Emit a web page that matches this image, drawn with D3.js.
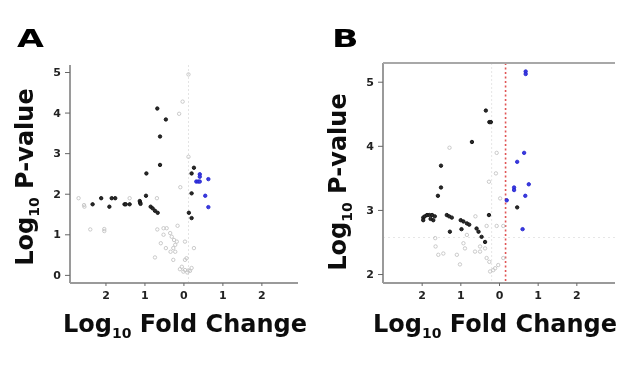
<!DOCTYPE html>
<html>
<head>
<meta charset="utf-8">
<script src="https://cdn.jsdelivr.net/npm/d3@7"></script>
<style>
  body { margin: 0; background: #fff; }
  svg { display: block; }
  text { font-family: "DejaVu Sans", Arial, sans-serif; }
</style>
</head>
<body>
<svg width="640" height="378"></svg>
<script>
// panel A: [log10 fold change, log10 p-value]
const aSig = [
  [-0.67, 4.1], [-0.45, 3.83], [-0.6, 3.41], [-0.6, 2.71], [-0.95, 2.5],
  [0.27, 2.64], [0.21, 2.5], [0.21, 2.01], [0.14, 1.53], [0.21, 1.4],
  [-0.96, 1.95], [-1.12, 1.82], [-1.11, 1.78], [-1.1, 1.75],
  [-0.84, 1.68], [-0.79, 1.64], [-0.73, 1.58], [-0.66, 1.53],
  [-2.11, 1.89], [-1.84, 1.89], [-1.75, 1.89], [-1.9, 1.68], [-2.33, 1.74],
  [-1.51, 1.74], [-1.48, 1.74], [-1.38, 1.74]
]
const aUp = [
  [0.42, 2.48], [0.42, 2.42], [0.33, 2.3], [0.38, 2.3], [0.42, 2.3],
  [0.64, 2.36], [0.56, 1.95], [0.64, 1.67]
]
const aNs = [
  [0.13, 4.94], [-0.02, 4.27], [-0.11, 3.97], [0.13, 2.91], [-0.08, 2.16],
  [-0.68, 1.89], [-1.38, 1.89], [-2.69, 1.89], [-2.55, 1.72], [-2.54, 1.68],
  [-2.39, 1.12], [-2.03, 1.13], [-2.03, 1.08],
  [-0.67, 1.12], [-0.51, 1.15], [-0.43, 1.15], [-0.15, 1.21], [-0.34, 1.03],
  [-0.3, 0.94], [-0.24, 0.86], [-0.17, 0.82], [-0.21, 0.74], [-0.51, 0.99],
  [-0.58, 0.78], [-0.45, 0.66], [-0.26, 0.66], [-0.21, 0.57], [0.04, 0.82],
  [0.27, 0.66], [-0.73, 0.43], [-0.26, 0.37], [0.04, 0.37], [-0.04, 0.2],
  [0.04, 0.12], [0.13, 0.11], [0.21, 0.17], [-0.09, 0.14], [0.08, 0.41],
  [-0.33, 0.57], [0.0, 0.08], [0.1, 0.06], [0.17, 0.1]
]

// panel B
const bSig = [
  [-0.34, 4.55], [-0.25, 4.37], [-0.21, 4.37], [-0.7, 4.06], [-1.5, 3.69],
  [-1.5, 3.35], [-1.58, 3.22], [0.47, 3.04], [-0.26, 2.92],
  [-1.96, 2.88], [-1.92, 2.9], [-1.86, 2.92], [-1.8, 2.92], [-1.73, 2.92],
  [-1.66, 2.9], [-1.7, 2.84], [-1.77, 2.86], [-1.96, 2.84],
  [-1.35, 2.92], [-1.29, 2.9], [-1.22, 2.88],
  [-0.99, 2.84], [-0.92, 2.82], [-0.83, 2.79], [-0.77, 2.77], [-0.97, 2.7],
  [-0.58, 2.71], [-0.53, 2.66], [-0.45, 2.58], [-0.36, 2.5], [-1.27, 2.66]
]
const bUp = [
  [0.69, 5.16], [0.69, 5.12], [0.65, 3.89], [0.47, 3.75], [0.39, 3.35],
  [0.39, 3.31], [0.77, 3.4], [0.68, 3.22], [0.2, 3.15], [0.61, 2.7]
]
const bNs = [
  [-1.28, 3.97], [-0.06, 3.89], [-0.08, 3.57], [-0.26, 3.44], [0.03, 3.18],
  [-0.61, 2.9], [0.11, 2.75], [-0.06, 2.75], [-0.32, 2.75],
  [-1.65, 2.56], [-1.64, 2.43], [-1.57, 2.3], [-1.44, 2.32], [-1.01, 2.15],
  [-0.88, 2.4], [-0.83, 2.61], [-0.62, 2.35], [-0.49, 2.35],
  [-0.32, 2.25], [-0.25, 2.19], [-0.23, 2.04], [-0.1, 2.09], [-0.02, 2.14],
  [-0.15, 2.06], [0.11, 2.25], [-0.49, 2.43], [-0.36, 2.4], [-0.92, 2.48],
  [-1.09, 2.3]
]

const xTicks = [-2, -1, 0, 1, 2]
const aYTicks = [0, 1, 2, 3, 4, 5]
const bYTicks = [2, 3, 4, 5]

const svg = d3.select('svg')

const blur = svg.append('defs').append('filter').attr('id', 'soft')
blur.append('feGaussianBlur').attr('stdDeviation', 0.45)

const root = svg.append('g').attr('filter', 'url(#soft)')

function addTitle(g, sel, main) {
  sel.append('tspan').text('Log')
  sel.append('tspan').text('10').attr('dy', 6).style('font-size', '14px')
  sel.append('tspan').text(main).attr('dy', -6)
}

function panel(opts) {
  const g = root.append('g')
  const x = d3.scaleLinear().domain(opts.xDomain).range([opts.left, opts.right])
  const y = d3.scaleLinear().domain(opts.yDomain).range([opts.bottom, opts.top])

  // reference lines
  for (const v of opts.vLines) {
    g.append('line')
      .attr('x1', x(v.at)).attr('x2', x(v.at))
      .attr('y1', opts.frameTop).attr('y2', opts.bottom)
      .attr('stroke', v.color).attr('stroke-width', v.width)
      .attr('stroke-dasharray', v.dash)
  }
  for (const h of opts.hLines) {
    g.append('line')
      .attr('x1', opts.left).attr('x2', opts.right)
      .attr('y1', y(h.at)).attr('y2', y(h.at))
      .attr('stroke', h.color).attr('stroke-width', h.width)
      .attr('stroke-dasharray', h.dash)
  }

  const xAxis = g.append('g')
    .attr('transform', `translate(0,${opts.bottom})`)
    .call(d3.axisBottom(x).tickValues(xTicks).tickSize(3).tickPadding(5)
      .tickFormat(d => Math.abs(d)))
  const yAxis = g.append('g')
    .attr('transform', `translate(${opts.left},0)`)
    .call(d3.axisLeft(y).tickValues(opts.yTicks).tickSize(5).tickPadding(4)
      .tickFormat(d3.format('d')))
  for (const ax of [xAxis, yAxis]) {
    ax.select('.domain').attr('stroke', '#9a9a9a').attr('stroke-width', 2)
    ax.selectAll('.tick line').attr('stroke', '#666')
    ax.selectAll('.tick text').attr('fill', '#222')
      .style('font-size', '11px').style('font-weight', 'bold')
  }
  xAxis.select('.domain').attr('d', `M${opts.left},0H${opts.right}`)
  yAxis.select('.domain').attr('d', `M0,${opts.frameTop}V${opts.bottom}`)

  if (opts.boxTop) {
    g.append('line')
      .attr('x1', opts.left).attr('x2', opts.right)
      .attr('y1', opts.frameTop).attr('y2', opts.frameTop)
      .attr('stroke', '#a8a8a8').attr('stroke-width', 2)
  }

  const dots = (data, fill, stroke) => g.append('g')
    .selectAll('circle').data(data).join('circle')
    .attr('cx', d => x(d[0])).attr('cy', d => y(d[1]))
    .attr('r', 1.7).attr('fill', fill).attr('stroke', stroke).attr('stroke-width', 0.9)

  dots(opts.ns, 'none', '#c4c4c4')
  dots(opts.sig, '#2a2a2a', '#111')
  dots(opts.up, '#3a3ae0', '#2626d0')

  // titles
  const xt = g.append('text')
    .attr('x', opts.xTitleX).attr('y', 332)
    .attr('text-anchor', 'middle').style('font-size', '24px')
    .style('font-weight', 'bold').attr('fill', '#111')
  addTitle(g, xt, ' Fold Change')

  const yt = g.append('text')
    .attr('transform', `translate(${opts.left - 37},${opts.yTitleY}) rotate(-90)`)
    .attr('text-anchor', 'middle').style('font-size', '24px')
    .style('font-weight', 'bold').attr('fill', '#111')
  addTitle(g, yt, ' P-value')

  g.append('text')
    .attr('transform', `translate(${opts.labelX},47) scale(1.45,1)`)
    .style('font-size', '24px').style('font-weight', 'bold').attr('fill', '#000')
    .text(opts.label)
}

panel({
  label: 'A', labelX: 17, xTitleX: 185, yTitleY: 177,
  left: 70, right: 298, top: 72, bottom: 283, frameTop: 65,
  xDomain: [-2.91, 2.94], yDomain: [-0.2, 5],
  yTicks: aYTicks,
  sig: aSig, up: aUp, ns: aNs,
  vLines: [{ at: 0.13, color: '#e4e4e4', width: 1, dash: '2,2' }],
  hLines: [],
  boxTop: false
})

panel({
  label: 'B', labelX: 332, xTitleX: 495, yTitleY: 182,
  left: 383, right: 615, top: 83, bottom: 283, frameTop: 63,
  xDomain: [-3.0, 3.0], yDomain: [1.86, 4.98],
  yTicks: bYTicks,
  sig: bSig, up: bUp, ns: bNs,
  vLines: [
    { at: -0.19, color: '#e6e6e6', width: 1, dash: '2,2' },
    { at: 0.17, color: '#e05555', width: 1.6, dash: '2,2.5' }
  ],
  hLines: [{ at: 2.57, color: '#e6e6e6', width: 1, dash: '2,3' }],
  boxTop: true
})
</script>
</body>
</html>
